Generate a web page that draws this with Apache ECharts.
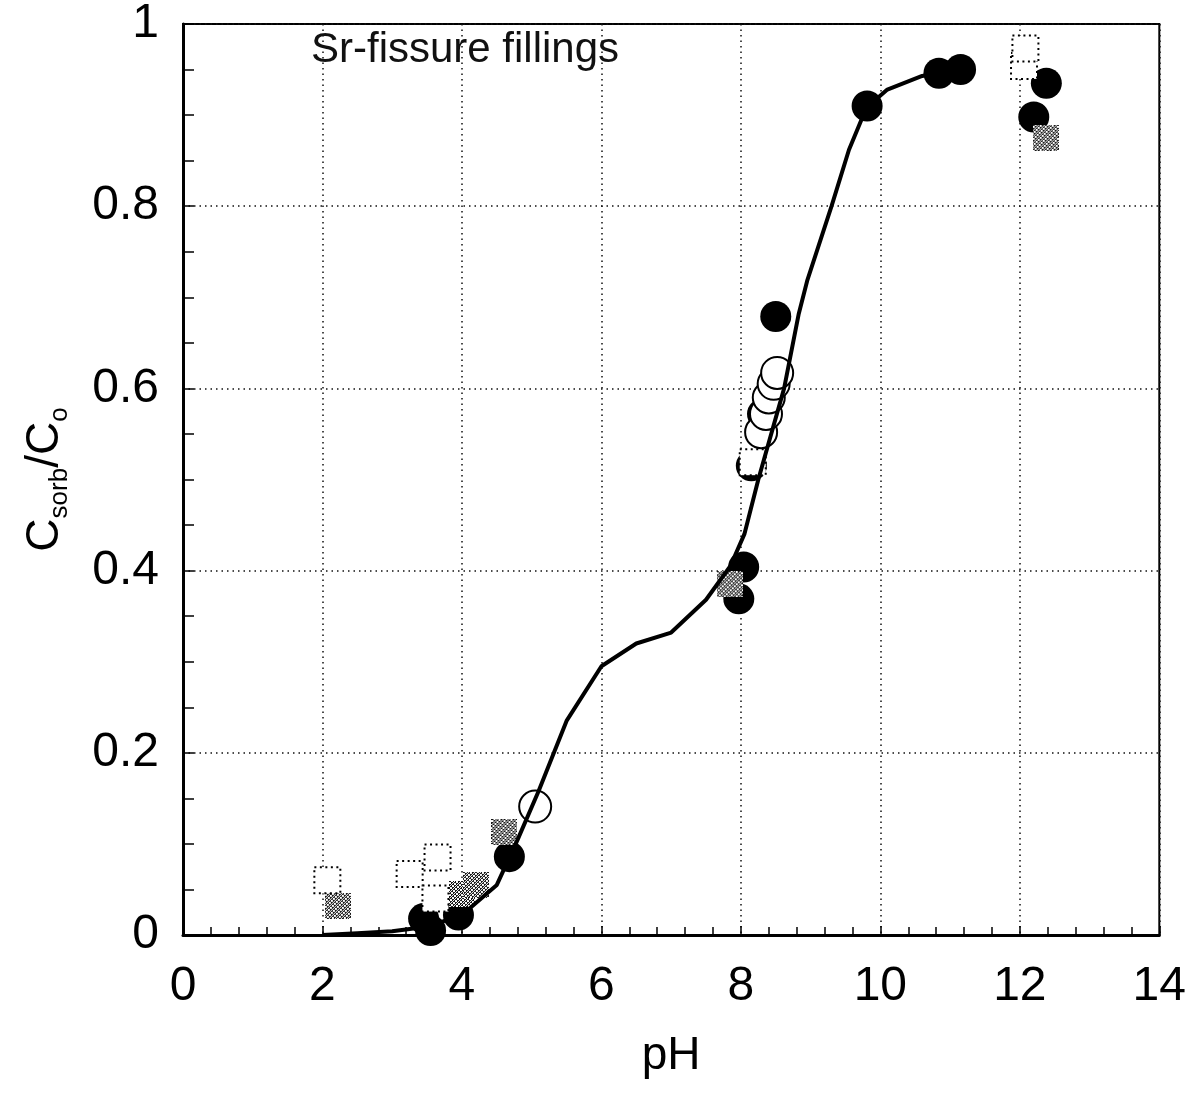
<!DOCTYPE html>
<html>
<head>
<meta charset="utf-8">
<script src="https://cdn.jsdelivr.net/npm/echarts@6/dist/echarts.min.js"></script>
<style>
  html, body { margin: 0; padding: 0; background: #fff; }
  #chart { width: 1189px; height: 1093px; }
</style>
</head>
<body>
<div id="chart"></div>
<script>
// Model fit of Sr sorption on fissure fillings: [pH, Csorb/Co]
const fitCurve = [
  [2.0, 0.0], [2.5, 0.002], [3.0, 0.004], [3.5, 0.009], [4.0, 0.022],
  [4.5, 0.055], [4.8, 0.105], [5.1, 0.158], [5.5, 0.235], [6.0, 0.295],
  [6.5, 0.32], [7.0, 0.332], [7.5, 0.368], [7.85, 0.405], [8.05, 0.44],
  [8.25, 0.50], [8.62, 0.60], [8.83, 0.682], [8.95, 0.718], [9.3, 0.80],
  [9.55, 0.862], [9.8, 0.908], [10.1, 0.928], [10.6, 0.943], [11.15, 0.95]
];

// Measured data sets: [pH, Csorb/Co]
const filledCircles = [
  [3.45, 0.018], [3.55, 0.005], [3.95, 0.022], [4.68, 0.086],
  [7.97, 0.369], [8.04, 0.404], [8.15, 0.515], [8.31, 0.572],
  [8.50, 0.679], [9.81, 0.910], [10.84, 0.946], [11.15, 0.950],
  [12.20, 0.898], [12.38, 0.935]
];
const openCircles = [
  [5.05, 0.141], [8.29, 0.552], [8.36, 0.572], [8.40, 0.590],
  [8.47, 0.605], [8.52, 0.617]
];
const dottedSquares = [
  [2.07, 0.060], [3.25, 0.067], [3.65, 0.085], [3.62, 0.040],
  [8.17, 0.519], [12.06, 0.954], [12.08, 0.973]
];
const hatchedSquares = [
  [2.22, 0.032], [4.00, 0.045], [4.20, 0.055], [4.61, 0.113],
  [7.84, 0.385], [12.37, 0.875]
];

const xTickStep = 2;
const yTickStep = 0.2;

// Square symbol filled with a fine diagonal hatch, returned as an image symbol
function hatchSymbol(size) {
  const c = document.createElement('canvas');
  c.width = size; c.height = size;
  const ctx = c.getContext('2d');
  ctx.fillStyle = '#fff';
  ctx.fillRect(0, 0, size, size);
  ctx.fillStyle = '#111';
  for (let i = 0; i < size; i++) {
    for (let j = 0; j < size; j++) {
      if (((i + j) % 3 < 2) && ((i - j + 60) % 4 < 3)) ctx.fillRect(i, j, 1, 1);
    }
  }
  return 'image://' + c.toDataURL();
}

const FONT = 'Liberation Sans, Arial, sans-serif';
const chart = echarts.init(document.getElementById('chart'), null, { renderer: 'canvas' });

chart.setOption({
  animation: false,
  backgroundColor: '#fff',
  textStyle: { fontFamily: FONT, color: '#000' },
  title: {
    text: 'Sr-fissure fillings',
    left: 306, top: 24,
    textStyle: { fontFamily: FONT, fontSize: 42, fontWeight: 'normal', color: '#111' }
  },
  grid: {
    left: 183, top: 23, right: 28, bottom: 158,
    show: true, borderColor: '#000', borderWidth: 2, backgroundColor: 'transparent'
  },
  xAxis: {
    type: 'value', min: 0, max: 14, interval: xTickStep,
    name: 'pH', nameLocation: 'middle', nameGap: 98,
    nameTextStyle: { fontSize: 46, fontFamily: FONT, color: '#000' },
    axisLine: { show: true, onZero: false, lineStyle: { color: '#000', width: 3 } },
    axisTick: { show: true, inside: true, length: 9, lineStyle: { color: '#000', width: 1.5 } },
    minorTick: { show: true, splitNumber: 5, length: 8, lineStyle: { color: '#000', width: 1.5 } },
    axisLabel: { fontSize: 48, margin: 28, color: '#000' },
    splitLine: { show: true, lineStyle: { color: '#111', width: 1.5, type: [1.5, 4] } }
  },
  yAxis: {
    type: 'value', min: 0, max: 1, interval: yTickStep,
    name: '{c|C}{s|sorb}{c|/C}{s|o}', nameLocation: 'middle', nameGap: 110, nameRotate: 90,
    nameTextStyle: {
      rich: {
        c: { fontSize: 46, fontFamily: FONT, color: '#000', lineHeight: 56, verticalAlign: 'middle' },
        s: { fontSize: 26, fontFamily: FONT, color: '#000', verticalAlign: 'bottom' }
      }
    },
    axisLine: { show: true, onZero: false, lineStyle: { color: '#000', width: 3 } },
    axisTick: { show: true, inside: true, length: 11, lineStyle: { color: '#000', width: 1.5 } },
    minorTick: { show: true, splitNumber: 4, length: 11, lineStyle: { color: '#000', width: 1.5 } },
    axisLabel: { fontSize: 48, margin: 24, color: '#000' },
    splitLine: { show: true, lineStyle: { color: '#111', width: 1.5, type: [1.5, 4] } }
  },
  series: [
    {
      name: 'filled', type: 'scatter', data: filledCircles, symbol: 'circle', symbolSize: 31, clip: false, z: 2,
      itemStyle: { color: '#000', borderWidth: 0, opacity: 1 }
    },
    {
      name: 'hatched', type: 'scatter', data: hatchedSquares, symbol: hatchSymbol(26), symbolSize: 26, clip: false, z: 3,
      itemStyle: { opacity: 1 }
    },
    {
      name: 'dotted', type: 'scatter', data: dottedSquares, symbol: 'rect', symbolSize: 26, clip: false, z: 4,
      itemStyle: { color: '#fff', borderColor: '#000', borderWidth: 2, borderType: [2, 3.5], opacity: 1 }
    },
    {
      name: 'open', type: 'scatter', data: openCircles, symbol: 'circle', symbolSize: 32, clip: false, z: 5,
      itemStyle: { color: '#fff', borderColor: '#000', borderWidth: 2, opacity: 1 }
    },
    {
      name: 'fit', type: 'line', data: fitCurve, symbol: 'none', clip: false, z: 6,
      lineStyle: { color: '#000', width: 4 }
    }
  ]
});
</script>
</body>
</html>
